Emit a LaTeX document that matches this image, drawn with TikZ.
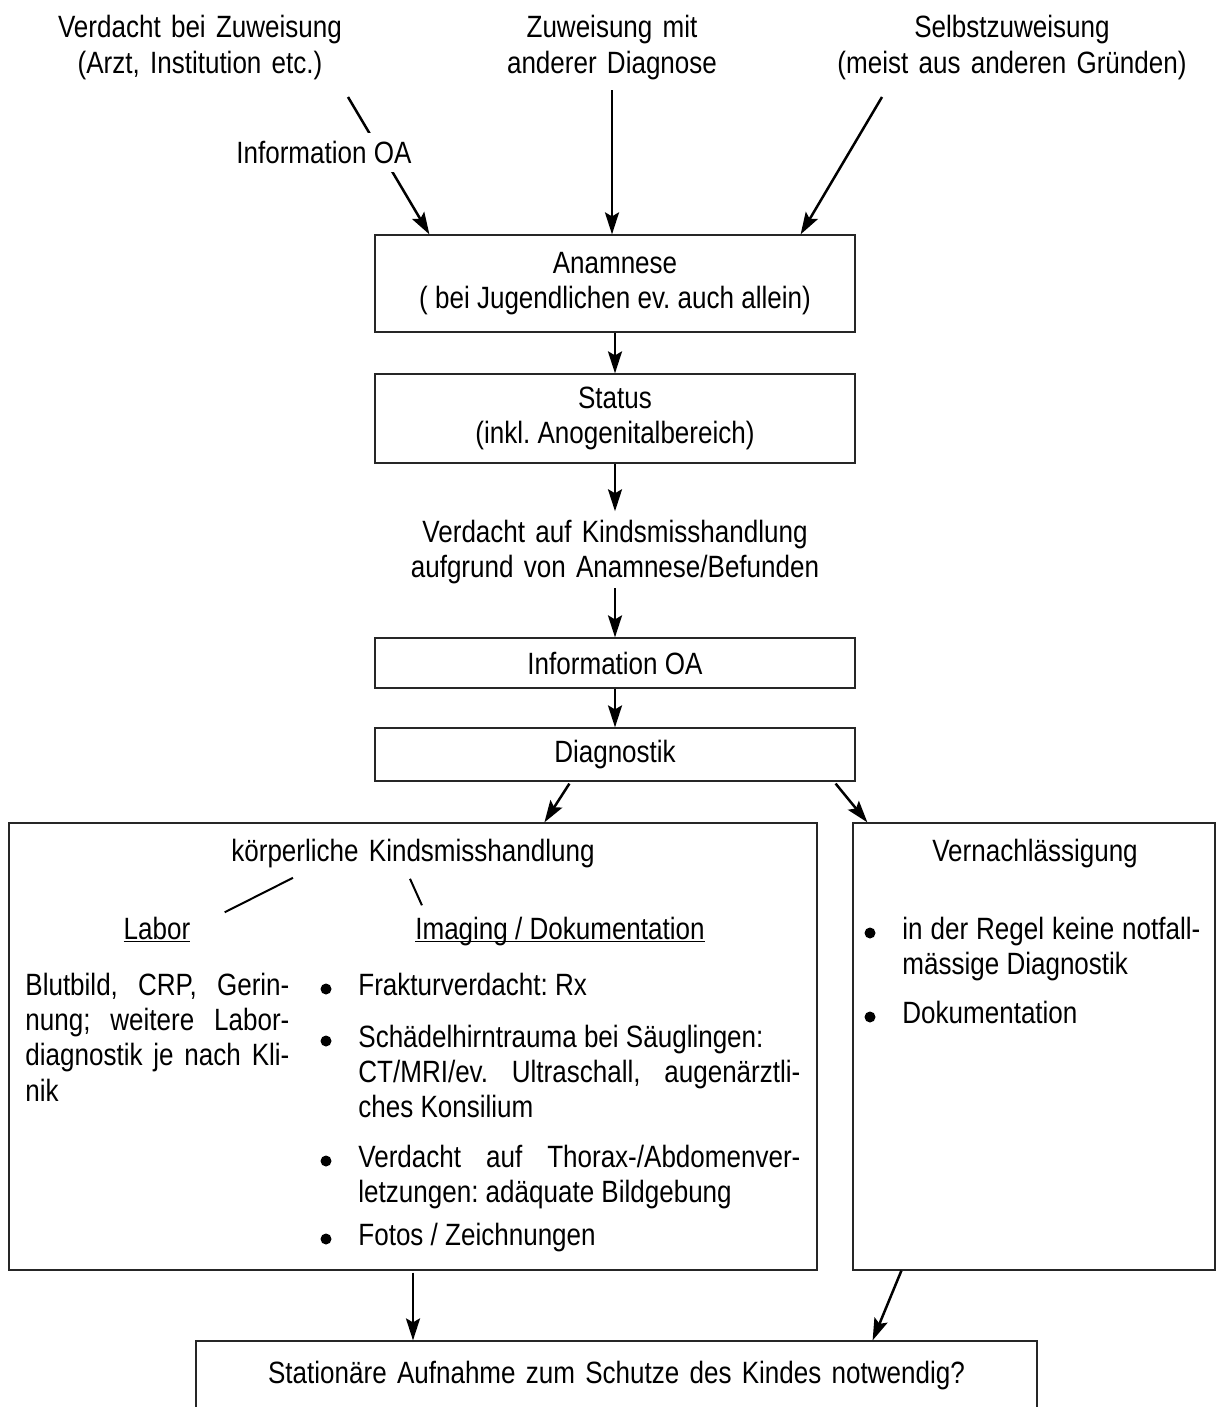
\documentclass[tikz,border=0pt]{standalone}
\usepackage{fontspec}
\setmainfont[FakeStretch=0.845]{Liberation Sans}
\usetikzlibrary{arrows.meta,calc}
\hyphenpenalty=10000
\frenchspacing
\newcommand{\ulhead}[1]{\underline{\raisebox{0pt}[\height][0pt]{#1}}}

\tikzset{
  box/.style={draw=black!85, line width=0.6pt, inner sep=0pt, align=center},
  txt/.style={inner sep=0pt, anchor=base, align=center, text width=#1},
  txt/.default=240pt,
  itembox/.style={inner sep=0pt, anchor=base west, align=justify, text width=#1},
  itembox/.default=221pt,
  arr/.style={->, line width=1.25pt},
  stroke/.style={line width=1pt},
  dot/.style={circle, fill=black, inner sep=0pt, minimum size=5.5pt},
}

\begin{document}
\begin{tikzpicture}[x=0.5pt, y=-0.5pt, >={Stealth[length=11pt,width=7pt,inset=2pt]}, font=\fontsize{15.4pt}{17.7pt}\selectfont]
	\useasboundingbox (0,0) rectangle (1216,1407);
	\clip (0,0) rectangle (1216,1407);
	%\draw [help lines, step=100] (0,0) grid (1216,1407);
	% Zuweisung
	\node[txt] (src1) at (200,38) {Verdacht bei Zuweisung\\(Arzt, Institution etc.)};
	\node[txt] (src2) at (612,38) {Zuweisung mit\\anderer Diagnose};
	\node[txt] (src3) at (1012,38) {Selbstzuweisung\\(meist aus anderen Gründen)};
	\coordinate (s1) at (348,97);
	\coordinate (s3) at (882,97);
	% Ablauf
	\node[box, minimum width=240pt, minimum height=48.5pt] (anam) at (615,283.5) {Anamnese\\( bei Jugendlichen ev. auch allein)};
	\node[box, minimum width=240pt, minimum height=44.5pt] (stat) at (615,418.5) {Status\\(inkl. Anogenitalbereich)};
	\node[txt] (verd) at (615,542) {Verdacht auf Kindsmisshandlung\\aufgrund von Anamnese/Befunden};
	\node[box, minimum width=240pt, minimum height=25pt] (info) at (615,663) {Information OA};
	\node[box, minimum width=240pt, minimum height=26.5pt] (diag) at (615,754.5) {Diagnostik};
	% koerperliche Kindsmisshandlung
	\node[box, minimum width=404pt, minimum height=223.5pt] (koerp) at (413,1046.5) {};
	\node[txt] (koerpt) at (413,861) {körperliche Kindsmisshandlung};
	\node[inner sep=0pt, anchor=base] (labor) at (157,939) {\ulhead{Labor}};
	\node[inner sep=0pt, anchor=base] (imag) at (560,939) {\ulhead{Imaging / Dokumentation}};
	\draw[stroke] ($(koerpt.south)+(-120,10)$) -- ($(labor.north east)+(34,-4)$);
	\draw[stroke] ($(koerpt.south)+(-3,11)$) -- ($(imag.north west)+(7,-11)$);
	\node[itembox=132pt] (labtext) at (25,995) {Blutbild, CRP, Gerin-\linebreak nung; weitere Labor-\linebreak diagnostik je nach Kli-\linebreak nik};
	\node[dot] (b1) at (326,989) {};
	\node[itembox] (i1) at (358,995) {Frakturverdacht: Rx};
	\node[dot] (b2) at (326,1041) {};
	\node[itembox] (i2) at (358,1047) {Schädelhirntrauma bei Säuglingen:\\CT/MRI/ev. Ultraschall, augenärztli-\linebreak ches Konsilium};
	\node[dot] (b3) at (326,1161) {};
	\node[itembox] (i3) at (358,1167) {Verdacht auf Thorax-/Abdomenver-\linebreak letzungen: adäquate Bildgebung};
	\node[dot] (b4) at (326,1239) {};
	\node[itembox] (i4) at (358,1245) {Fotos / Zeichnungen};
	% Vernachlaessigung
	\node[box, minimum width=181pt, minimum height=223.5pt] (vern) at (1034,1046.5) {};
	\node[txt] (vernt) at (1035,861) {Vernachlässigung};
	\node[dot] (b5) at (870,933) {};
	\node[itembox=149pt] (r1) at (902,939) {in der Regel keine notfall-\linebreak mässige Diagnostik};
	\node[dot] (b6) at (870,1017) {};
	\node[itembox=149pt] (r2) at (902,1023) {Dokumentation};
	% Aufnahme
	\node[box, minimum width=420.5pt, minimum height=50pt] (quest) at (616.5,1391) {};
	\node[txt=420pt] (questt) at (616.5,1383) {Stationäre Aufnahme zum Schutze des Kindes notwendig?};
	% Pfeile
	\draw[arr] (s1) -- node[pos=0.404, xshift=-28.5pt, fill=white, inner xsep=2pt, inner ysep=4pt] (infolab) {Information OA} ($(anam.north west)+(55,0)$);
	\draw[arr, shorten <=5pt] (src2.south) -- (src2.south |- anam.north);
	\draw[arr] (s3) -- ($(anam.north east)+(-55,0)$);
	\draw[arr] (anam) -- (stat);
	\draw[arr, shorten >=4pt] (stat) -- (verd);
	\draw[arr, shorten <=2pt] (verd) -- (info);
	\draw[arr] (info) -- (diag);
	\draw[arr] ($(diag.south west)+(195,2)$) -- ($(koerp.north west)+(536,0)$);
	\draw[arr] ($(diag.south east)+(-20,2)$) -- ($(vern.north west)+(15,0)$);
	\draw[arr, shorten <=1pt] (koerp.south) -- (koerp.south |- quest.north);
	\draw[arr] ($(vern.south west)+(49,0)$) -- ($(quest.north east)+(-165,0)$);
\end{tikzpicture}
\end{document}
